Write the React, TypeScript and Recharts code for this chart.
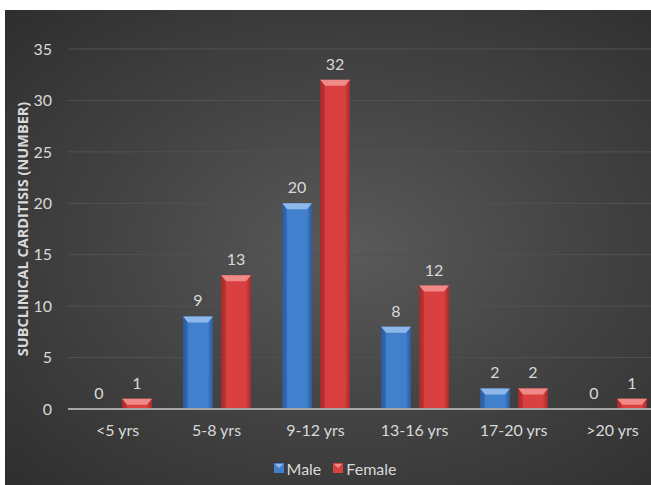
import { BarChart, Bar, XAxis, YAxis, CartesianGrid, Legend, LabelList } from "recharts";

const categories = ["<5 yrs", "5-8 yrs", "9-12 yrs", "13-16 yrs", "17-20 yrs", ">20 yrs"];
const male = [0, 9, 20, 8, 2, 0];
const female = [1, 13, 32, 12, 2, 1];
const yTicks = [0, 5, 10, 15, 20, 25, 30, 35];

const data = categories.map((c, i) => ({ age: c, Male: male[i], Female: female[i] }));

const FONT = "Lato, 'Open Sans', sans-serif";
const TEXT = "#d9d9d9";

const PALETTE: Record<string, { mid: string; edge: string; top: string }> = {
  blue: { mid: "#4180cc", edge: "#2b5a9a", top: "#8fb8ea" },
  red: { mid: "#d9403f", edge: "#a62a2a", top: "#f08a88" },
};

function BevelBar(props: any) {
  const { x, y, width, height, tone } = props;
  if (!height || height <= 0) return null;
  const c = PALETTE[tone];
  const b = Math.min(6, height);
  const id = `g-${tone}`;
  return (
    <g>
      <rect x={x} y={y} width={width} height={height} fill={`url(#${id})`} />
      <polygon
        points={`${x},${y} ${x + width},${y} ${x + width - 5},${y + b} ${x + 5},${y + b}`}
        fill={c.top}
      />
      <polygon points={`${x},${y} ${x + 5},${y + b} ${x + 5},${y + height} ${x},${y + height}`} fill={c.edge} opacity={0.5} />
    </g>
  );
}

function YLabel(props: any) {
  const { viewBox } = props;
  const cx = 22;
  const cy = viewBox.y + viewBox.height / 2;
  return (
    <text
      x={cx}
      y={cy}
      transform={`rotate(-90 ${cx} ${cy})`}
      textAnchor="middle"
      dominantBaseline="central"
      fill={TEXT}
      fontSize={14.5}
      fontWeight="bold"
      fontFamily="'Open Sans', sans-serif"
    >
      SUBCLINICAL CARDITISIS (NUMBER)
    </text>
  );
}

function LegendBox() {
  const item = (label: string, tone: string) => (
    <span style={{ display: "inline-flex", alignItems: "center", margin: "0 6px" }}>
      <svg width={10} height={10} style={{ marginRight: 3 }}>
        <rect x={0} y={0} width={10} height={10} fill={PALETTE[tone].mid} />
        <polygon points="1,1 9,1 5,5" fill={PALETTE[tone].top} />
      </svg>
      <span>{label}</span>
    </span>
  );
  return (
    <div style={{ textAlign: "center", color: TEXT, fontSize: 16, fontFamily: FONT, paddingTop: 12 }}>
      {item("Male", "blue")}
      {item("Female", "red")}
    </div>
  );
}

export default function App() {
  return (
    <div style={{ position: "absolute", left: 0, top: 0, width: 651, height: 485, overflow: "hidden", background: "#ffffff" }}>
      <div
        style={{
          position: "absolute",
          left: 5,
          top: 10,
          width: 660,
          height: 480,
          background: "radial-gradient(ellipse at 52% 50%, #5a5a5a 0%, #454545 45%, #2e2e2e 100%)",
        }}
      />
      <div style={{ position: "absolute", left: 0, top: 0 }}>
        <BarChart
          width={681}
          height={485}
          data={data}
          margin={{ top: 49, right: 19, left: 8, bottom: 6 }}
          barSize={30}
          barGap={8}
        >
          <defs>
            {Object.keys(PALETTE).map((k) => (
              <linearGradient key={k} id={`g-${k}`} x1="0" y1="0" x2="1" y2="0">
                <stop offset="0%" stopColor={PALETTE[k].edge} />
                <stop offset="18%" stopColor={PALETTE[k].mid} />
                <stop offset="82%" stopColor={PALETTE[k].mid} />
                <stop offset="100%" stopColor={PALETTE[k].edge} />
              </linearGradient>
            ))}
          </defs>
          <CartesianGrid vertical={false} stroke="#525252" strokeWidth={1} />
          <XAxis
            dataKey="age"
            axisLine={{ stroke: "#a6a6a6", strokeWidth: 2 }}
            tickLine={false}
            tick={{ fill: TEXT, fontSize: 16, fontFamily: FONT }}
            tickMargin={10}
            height={36}
          />
          <YAxis
            domain={[0, 35]}
            ticks={yTicks}
            axisLine={false}
            tickLine={false}
            tick={{ fill: TEXT, fontSize: 16, fontFamily: FONT }}
            tickMargin={10}
            width={60}
            label={<YLabel />}
          />
          <Legend verticalAlign="bottom" height={34} content={<LegendBox />} />
          <Bar dataKey="Male" isAnimationActive={false} shape={<BevelBar tone="blue" />}>
            <LabelList dataKey="Male" position="top" offset={10} fill={TEXT} fontSize={16} fontFamily={FONT} />
          </Bar>
          <Bar dataKey="Female" isAnimationActive={false} shape={<BevelBar tone="red" />}>
            <LabelList dataKey="Female" position="top" offset={10} fill={TEXT} fontSize={16} fontFamily={FONT} />
          </Bar>
        </BarChart>
      </div>
    </div>
  );
}
